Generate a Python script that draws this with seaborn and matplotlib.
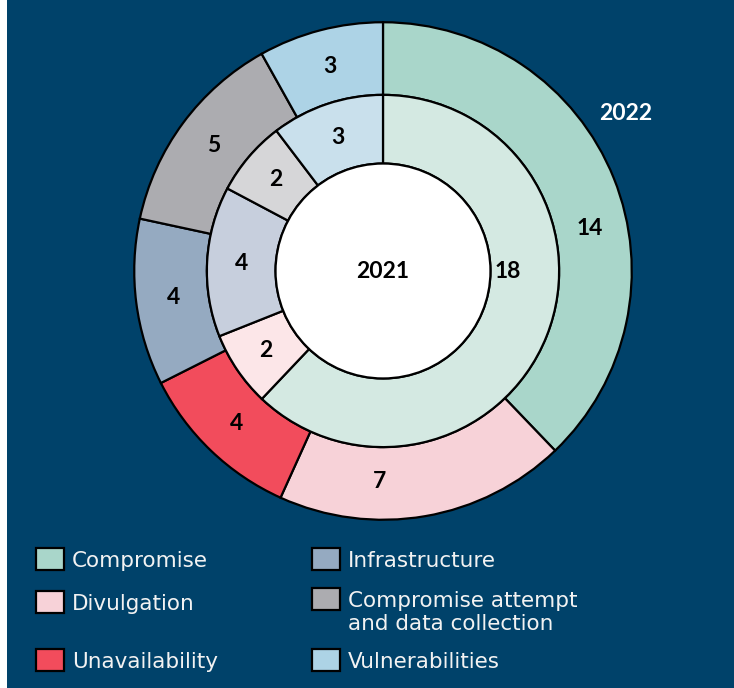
import numpy as np
import matplotlib
matplotlib.use("Agg")
import matplotlib.pyplot as plt
from matplotlib.patches import Rectangle, Circle
import seaborn as sns

sns.set_theme(style="white")
plt.rcParams['font.family'] = ['Lato', 'DejaVu Sans']

# Data
categories = ["Compromise", "Divulgation", "Unavailability", "Infrastructure",
              "Compromise attempt\nand data collection", "Vulnerabilities"]
values_2022 = [14, 7, 4, 4, 5, 3]
values_2021 = [18, 2, 0, 4, 2, 3]
colors_2022 = ["#A9D6CA", "#F7D2D8", "#F24C5C", "#95AAC1", "#ACACB0", "#ADD3E6"]
colors_2021 = ["#D4E9E2", "#FCE6E8", "#F24C5C", "#C7CFDD", "#D6D6D8", "#C9E0EC"]

navy = "#00426A"
W, H = 734, 688
fig = plt.figure(figsize=(W / 100, H / 100), dpi=100)
fig.patch.set_facecolor("white")
fig.patches.append(Rectangle((7 / W, 0), 1, 1, transform=fig.transFigure,
                             facecolor=navy, edgecolor="none", zorder=-10))

# pie axes: centre (383, 271) px, outer radius 250 px
cx, cy, R = 383, 271, 250
ax = fig.add_axes([(cx - R) / W, (H - cy - R) / H, 2 * R / W, 2 * R / H])

r_mid = 177 / R
r_hole = 108 / R
edge = dict(edgecolor="black", linewidth=1.6)

def ring(vals, cols, radius, width):
    v = [x for x in vals if x > 0]
    c = [cc for x, cc in zip(vals, cols) if x > 0]
    wedges, _ = ax.pie(v, colors=c, radius=radius, startangle=90, counterclock=False,
                       wedgeprops=dict(width=width, **edge))
    return wedges

w_out = ring(values_2022, colors_2022, 1.0, 1.0 - r_mid)
w_in = ring(values_2021, colors_2021, r_mid, r_mid - r_hole)
ax.add_patch(Circle((0, 0), r_hole, facecolor="white", **edge))
ax.set_xlim(-1.005, 1.005)
ax.set_ylim(-1.005, 1.005)
ax.set_aspect("equal")
ax.axis("off")

# value labels (angle overrides where the original nudged them)
num_font = 16.5
label_style = dict(ha="center", va="center", fontsize=num_font, fontweight="bold", color="black")
override_out = {0: 11.7, 1: -91}
override_in = {0: 0}

def put_labels(wedges, vals, r, overrides, r_over=None):
    nz = [x for x in vals if x > 0]
    for i, (w, v) in enumerate(zip(wedges, nz)):
        ang = (w.theta1 + w.theta2) / 2
        rr = r
        if i in overrides:
            ang = overrides[i]
            if r_over is not None:
                rr = r_over
        a = np.deg2rad(ang)
        ax.text(rr * np.cos(a), rr * np.sin(a), str(v), **label_style)

put_labels(w_out, values_2022, 212 / R, override_out)
put_labels(w_in, values_2021, 142 / R, override_in, r_over=125 / R)

ax.text(0, 0, "2021", **label_style)
ax.text((627 - cx) / R, (cy - 113) / R, "2022", ha="center", va="center",
        fontsize=num_font, fontweight="bold", color="white")

# legend, drawn by hand in pixel positions
leg_font = dict(fontsize=15.5, color="#F2F2F2", family="DejaVu Sans")
leg_pos = [(36, 567), (36, 610), (36, 668), (312, 567), (312, 607), (312, 668)]
for (lx, base), cat, col in zip(leg_pos, categories, colors_2022):
    fig.patches.append(Rectangle((lx / W, (H - base - 3) / H), 28 / W, 22 / H,
                                 transform=fig.transFigure, facecolor=col,
                                 edgecolor="black", linewidth=1.6))
    lines = cat.split("\n")
    for k, line in enumerate(lines):
        fig.text((lx + 36) / W, (H - base - 23 * k) / H, line, ha="left",
                 va="baseline", **leg_font)

fig.savefig("out.png", dpi=100, facecolor=fig.get_facecolor())
